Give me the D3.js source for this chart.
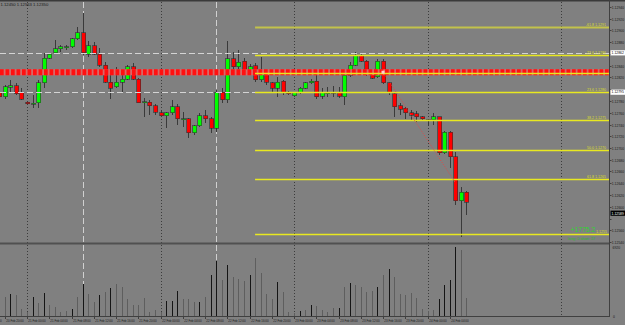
<!DOCTYPE html>
<html><head><meta charset="utf-8">
<script src="https://cdn.jsdelivr.net/npm/d3@7"></script>
<style>html,body{margin:0;padding:0;background:#808080;overflow:hidden}</style>
</head><body>
<svg id="c" width="625" height="325"></svg>
<script>
// bar k = 0 is the partially visible bar 20 Feb 19:00 (H1)
const opens=[1.12795,1.12787,1.12803,1.12806,1.12794,1.12778,1.12776,1.12777,1.12811,1.12853,1.12862,1.12869,1.12871,1.12872,1.12886,1.12896,1.12860,1.12874,1.12860,1.12841,1.12812,1.12804,1.12812,1.12817,1.12838,1.12817,1.12778,1.12778,1.12772,1.12760,1.12755,1.12760,1.12770,1.12749,1.12750,1.12726,1.12738,1.12755,1.12750,1.12734,1.12795,1.12782,1.12852,1.12838,1.12848,1.12828,1.12840,1.12816,1.12831,1.12811,1.12802,1.12814,1.12794,1.12789,1.12794,1.12802,1.12811,1.12814,1.12788,1.12794,1.12795,1.12794,1.12787,1.12824,1.12841,1.12858,1.12848,1.12826,1.12821,1.12848,1.12811,1.12792,1.12772,1.12768,1.12760,1.12758,1.12753,1.12748,1.12748,1.12753,1.12692,1.12727,1.12685,1.12610,1.12625];
const highs=[1.12799,1.12807,1.12816,1.12811,1.12802,1.12780,1.12790,1.12816,1.12862,1.12862,1.12884,1.12875,1.12875,1.12887,1.12906,1.12930,1.12882,1.12880,1.12870,1.12846,1.12829,1.12838,1.12829,1.12841,1.12845,1.12819,1.12785,1.12782,1.12775,1.12765,1.12761,1.12782,1.12775,1.12761,1.12751,1.12739,1.12760,1.12765,1.12753,1.12799,1.12802,1.12882,1.12863,1.12867,1.12853,1.12843,1.12845,1.12855,1.12833,1.12812,1.12821,1.12816,1.12797,1.12795,1.12804,1.12812,1.12817,1.12824,1.12802,1.12804,1.12806,1.12804,1.12828,1.12846,1.12863,1.12862,1.12850,1.12829,1.12852,1.12852,1.12812,1.12794,1.12777,1.12770,1.12765,1.12763,1.12755,1.12750,1.12760,1.12753,1.12729,1.12729,1.12693,1.12634,1.12627];
const lows=[1.12783,1.12783,1.12795,1.12790,1.12782,1.12773,1.12768,1.12768,1.12802,1.12852,1.12860,1.12864,1.12867,1.12870,1.12884,1.12858,1.12855,1.12858,1.12838,1.12811,1.12783,1.12802,1.12795,1.12816,1.12816,1.12776,1.12753,1.12756,1.12756,1.12753,1.12734,1.12756,1.12739,1.12736,1.12717,1.12722,1.12736,1.12743,1.12726,1.12727,1.12777,1.12777,1.12833,1.12833,1.12824,1.12824,1.12812,1.12812,1.12807,1.12795,1.12787,1.12790,1.12790,1.12787,1.12792,1.12800,1.12809,1.12783,1.12783,1.12787,1.12787,1.12785,1.12773,1.12821,1.12840,1.12846,1.12823,1.12818,1.12819,1.12809,1.12790,1.12753,1.12756,1.12750,1.12748,1.12744,1.12748,1.12738,1.12739,1.12688,1.12690,1.12666,1.12603,1.12549,1.12586];
const closes=[1.12787,1.12804,1.12806,1.12792,1.12783,1.12775,1.12776,1.12811,1.12853,1.12860,1.12869,1.12872,1.12872,1.12886,1.12896,1.12862,1.12874,1.12860,1.12841,1.12812,1.12802,1.12812,1.12817,1.12838,1.12817,1.12777,1.12779,1.12772,1.12761,1.12755,1.12760,1.12770,1.12750,1.12750,1.12726,1.12738,1.12755,1.12750,1.12734,1.12795,1.12782,1.12852,1.12838,1.12846,1.12828,1.12838,1.12816,1.12831,1.12812,1.12802,1.12812,1.12794,1.12793,1.12794,1.12802,1.12811,1.12814,1.12787,1.12794,1.12794,1.12794,1.12788,1.12824,1.12841,1.12858,1.12848,1.12826,1.12819,1.12848,1.12811,1.12794,1.12770,1.12766,1.12760,1.12756,1.12753,1.12750,1.12748,1.12753,1.12692,1.12727,1.12685,1.12610,1.12625,1.12608];
const volumes=[1800,1920,2250,2150,750,480,1920,1380,2380,1150,920,480,580,750,1980,3220,2220,1480,2150,2480,2820,3280,2980,1750,1150,1150,1820,480,650,450,1550,1550,2580,1750,1750,1420,1480,1950,4150,5580,3650,5150,3980,3750,3550,4150,5820,4380,2250,1750,3480,2420,480,350,550,650,1120,1050,650,420,820,820,2920,3380,3150,2980,2480,2580,2920,4150,4750,3980,2220,2200,2380,1820,750,580,650,1750,3150,3650,6920,6650,1880];
const volumeRising=[0,0,1,0,0,0,1,0,1,0,0,0,0,1,0,1,0,0,1,0,1,0,0,0,0,0,0,0,0,0,1,1,1,0,0,0,1,0,1,1,0,1,0,0,0,1,0,0,0,0,1,0,0,0,1,0,1,0,0,0,0,1,0,1,0,0,0,0,1,0,1,0,0,0,0,0,0,0,0,1,1,1,1,0,0];

const priceTicks=[1.12940,1.12920,1.12900,1.12880,1.12860,1.12840,1.12820,1.12800,1.12780,1.12760,1.12740,1.12720,1.12700,1.12680,1.12660,1.12640,1.12620,1.12600,1.12580,1.12560,1.12540];
const timeTickBars=[-3,1,5,9,13,17,21,25,29,33,37,41,45,49,53,57,61,65,69,73,77,81];
const timeTickLabels=["20 Feb 16:00","20 Feb 20:00","21 Feb 00:00","21 Feb 04:00","21 Feb 08:00","21 Feb 12:00","21 Feb 16:00","21 Feb 20:00","22 Feb 00:00","22 Feb 04:00","22 Feb 08:00","22 Feb 12:00","22 Feb 16:00","22 Feb 20:00","23 Feb 00:00","23 Feb 04:00","23 Feb 08:00","23 Feb 12:00","23 Feb 16:00","23 Feb 20:00","24 Feb 00:00","24 Feb 04:00"];
const gridBars=[5,29,53,77,101];
const markerBars=[15,39];
const dashedLevels=[1.12862,1.12795];
const orderLevel=1.12829;
const fibStartBar=46;
const fibNames=["-61.8","-23.6","0.0","23.6","38.2","50.0","61.8","100.0"];
const fibPrices=[1.12906,1.12858,1.12828,1.12795,1.12748,1.12697,1.12647,1.12554];
const tradeBars=[69,82];
const tradePrices=[1.12829,1.12641];
const currentPrice=1.12589;
const headerText="1.12450 1.12563 1.12350";
const profitText="+1775.2";
const positionsText="long: 0  short: 17";

const svg=d3.select('#c');
const F='"Liberation Sans", Arial, sans-serif';
const RIGHT=609.5;
const x=d3.scaleLinear().domain([0,84]).range([-0.8125,466.4375]);
const y=d3.scaleLinear().domain([1.12540,1.12940]).range([242,7]);
const yv=d3.scaleLinear().domain([0,d3.max(volumes)]).range([316.5,247.3]);
const px=k=>Math.round(x(k))+0.5;

svg.append('rect').attr('width',625).attr('height',325).attr('fill','#808080');

// vertical grid (dotted) and dashed markers
const vg=svg.append('g');
gridBars.forEach(k=>{
  vg.append('line').attr('x1',px(k)).attr('x2',px(k)).attr('y1',2).attr('y2',316.5)
    .attr('stroke','#3c3c3c').attr('stroke-width',1).attr('stroke-dasharray','1,2');
});
markerBars.forEach(k=>{
  vg.append('line').attr('x1',px(k)).attr('x2',px(k)).attr('y1',2).attr('y2',316.5)
    .attr('stroke','#d0d0d0').attr('stroke-width',1).attr('stroke-dasharray','6,3');
});

// candles
const cg=svg.append('g').attr('shape-rendering','crispEdges');
opens.forEach((o,k)=>{
  const c=closes[k], cx=px(k);
  cg.append('line').attr('x1',cx).attr('x2',cx).attr('y1',y(highs[k])).attr('y2',y(lows[k]))
    .attr('stroke','#3a3a3a').attr('stroke-width',1);
  const top=y(Math.max(o,c)), bot=y(Math.min(o,c));
  cg.append('rect').attr('x',cx-2).attr('y',top).attr('width',4).attr('height',Math.max(1,bot-top))
    .attr('fill',c>=o?'#00ff00':'#ff0000').attr('stroke','#303030').attr('stroke-width',0.6);
});

// volumes
const vgr=svg.append('g').attr('shape-rendering','crispEdges');
volumes.forEach((v,k)=>{
  vgr.append('line').attr('x1',px(k)).attr('x2',px(k)).attr('y1',yv(0)).attr('y2',yv(v))
    .attr('stroke',volumeRising[k]?'#151515':'#5e5e5e').attr('stroke-width',1.2);
});

// horizontal dashed lines
dashedLevels.forEach(p=>{
  svg.append('line').attr('x1',0).attr('x2',RIGHT).attr('y1',Math.round(y(p))+0.5).attr('y2',Math.round(y(p))+0.5)
    .attr('stroke','#d4d4d4').attr('stroke-width',1).attr('stroke-dasharray','6,3');
});

// fibonacci levels
const fg=svg.append('g');
fibPrices.forEach((p,i)=>{
  const yy=Math.round(y(p))+0.5;
  fg.append('line').attr('x1',x(fibStartBar)).attr('x2',RIGHT).attr('y1',yy).attr('y2',yy)
    .attr('stroke',i===0?'#c2c24a':'#e8e820').attr('stroke-width',i===0?2:1.3);
  if(i<fibPrices.length-1){
    fg.append('text').attr('x',606).attr('y',yy-1.5).attr('text-anchor','end')
      .attr('font-family',F).attr('font-size',3.6).attr('fill','#dede2a')
      .text(fibNames[i]+' '+p.toFixed(4));
  }
});

// order band
const oy=y(orderLevel);
svg.append('line').attr('x1',0).attr('x2',RIGHT).attr('y1',oy).attr('y2',oy)
  .attr('stroke','#d86868').attr('stroke-width',6);
svg.append('line').attr('x1',0).attr('x2',RIGHT).attr('y1',oy).attr('y2',oy)
  .attr('stroke','#ff1010').attr('stroke-width',6).attr('stroke-dasharray','3.7,1.8');
svg.append('line').attr('x1',x(fibStartBar)).attr('x2',RIGHT).attr('y1',Math.round(y(fibPrices[2]))+0.5).attr('y2',Math.round(y(fibPrices[2]))+0.5)
  .attr('stroke','#e8e820').attr('stroke-width',1.3);

// trade line
svg.append('line').attr('x1',x(tradeBars[0])).attr('y1',y(tradePrices[0]))
  .attr('x2',x(tradeBars[1])).attr('y2',y(tradePrices[1]))
  .attr('stroke','#e04848').attr('stroke-width',1).attr('stroke-dasharray','1,1.5');
svg.append('rect').attr('x',x(tradeBars[0])-1.5).attr('y',y(tradePrices[0])-1.5).attr('width',3).attr('height',3).attr('fill','#ffd0d0');

// frame
svg.append('line').attr('x1',0).attr('x2',625).attr('y1',0.75).attr('y2',0.75).attr('stroke','#3a3a3a').attr('stroke-width',1.5);
svg.append('rect').attr('x',0).attr('y',242.5).attr('width',RIGHT).attr('height',2).attr('fill','#505050');
svg.append('line').attr('x1',RIGHT).attr('x2',RIGHT).attr('y1',0).attr('y2',317).attr('stroke','#404040').attr('stroke-width',1);
svg.append('line').attr('x1',0).attr('x2',RIGHT).attr('y1',316.5).attr('y2',316.5).attr('stroke','#404040').attr('stroke-width',1);

// price axis
const ag=svg.append('g');
const boxed=dashedLevels.concat([currentPrice]);
priceTicks.forEach(p=>{
  const yy=Math.round(y(p))+0.5;
  ag.append('line').attr('x1',RIGHT).attr('x2',RIGHT+2).attr('y1',yy).attr('y2',yy).attr('stroke','#404040');
  if(boxed.some(b=>Math.abs(y(b)-y(p))<6)) return;
  ag.append('text').attr('x',611.8).attr('y',yy+1.3).attr('font-family',F).attr('font-size',3.4)
    .attr('fill','#1a1a1a').text(p.toFixed(5));
});
function box(p,bg,fg){
  const yy=y(p);
  ag.append('rect').attr('x',610.5).attr('y',yy-2.6).attr('width',14.5).attr('height',5.2).attr('fill',bg);
  ag.append('text').attr('x',611.6).attr('y',yy+1.3).attr('font-family',F).attr('font-size',3.4)
    .attr('fill',fg).text(p.toFixed(5));
}
dashedLevels.forEach(p=>box(p,'#ffffff','#000'));
box(currentPrice,'#000','#fff');
// volume axis
ag.append('text').attr('x',612.5).attr('y',yv(d3.max(volumes))+1.8).attr('font-family',F).attr('font-size',3.4).attr('fill','#1a1a1a').text(d3.max(volumes));
ag.append('text').attr('x',613).attr('y',yv(0)+1.2).attr('font-family',F).attr('font-size',3.4).attr('fill','#1a1a1a').text('0');

// time axis
timeTickBars.forEach((k,i)=>{
  const xx=px(k);
  ag.append('line').attr('x1',xx).attr('x2',xx).attr('y1',316.5).attr('y2',319).attr('stroke','#404040');
  ag.append('text').attr('x',xx+0.8).attr('y',322.4).attr('font-family',F).attr('font-size',2.95)
    .attr('fill','#1a1a1a').text(timeTickLabels[i]);
});

// header & result texts
svg.append('text').attr('x',0.5).attr('y',5.5).attr('font-family',F).attr('font-size',4.2).attr('fill','#1a1a1a').text(headerText);
// last fib label sits partly behind the profit text, as in the terminal
{
  const p=fibPrices[fibPrices.length-1], yy=Math.round(y(p))+0.5;
  svg.append('text').attr('x',607).attr('y',yy-1.5).attr('text-anchor','end')
    .attr('font-family',F).attr('font-size',3.6).attr('fill','#dede2a')
    .text(p.toFixed(4));
}
svg.append('text').attr('x',570.5).attr('y',232).attr('font-family',F).attr('font-size',6.8).attr('fill','#2fd42f')
  .text(profitText);
svg.append('text').attr('x',568).attr('y',240).attr('font-family',F).attr('font-size',3.8).attr('fill','#2fb82f')
  .text(positionsText);
</script>
</body></html>
